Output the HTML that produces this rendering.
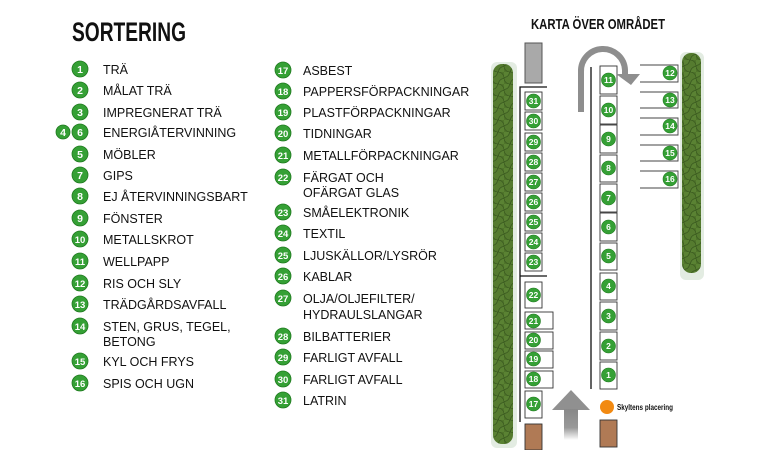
<!DOCTYPE html>
<html><head><meta charset="utf-8"><style>
html,body{margin:0;padding:0;background:#fff;}
svg{display:block;font-family:"Liberation Sans",sans-serif;}
.t{font-size:12.5px;fill:#111;}
.n{font-size:10.5px;fill:#fff;text-anchor:middle;font-weight:bold;}
.m{font-size:9.5px;fill:#fff;text-anchor:middle;font-weight:bold;}
</style></head><body>
<svg width="770" height="450" viewBox="0 0 770 450" xmlns="http://www.w3.org/2000/svg">
<defs>
<pattern id="tr" width="12" height="12" patternUnits="userSpaceOnUse">
<rect width="12" height="12" fill="#4f742a"/>
<circle cx="6" cy="6" r="6" fill="#557b2f" stroke="#3a5a1f" stroke-width="0.8"/>
<circle cx="0" cy="0" r="5.5" fill="#5a8233" stroke="#3a5a1f" stroke-width="0.8"/>
<circle cx="12" cy="12" r="5.5" fill="#5a8233" stroke="#3a5a1f" stroke-width="0.8"/>
</pattern>
<linearGradient id="fade" x1="0" y1="0" x2="0" y2="1"><stop offset="0" stop-color="#888"/><stop offset="0.6" stop-color="#999"/><stop offset="1" stop-color="#fff"/></linearGradient>
</defs>
<text x="72" y="41" style="font-family:'Liberation Sans Narrow','Liberation Sans',sans-serif;font-size:27px;font-weight:bold;fill:#111" textLength="114" lengthAdjust="spacingAndGlyphs">SORTERING</text>

<g>
<g fill="#35a035" stroke="#1f7a1f" stroke-width="0.8">
<circle cx="80" cy="69" r="8"/><circle cx="80" cy="90" r="8"/><circle cx="80" cy="112" r="8"/><circle cx="80" cy="132" r="8"/><circle cx="63" cy="132" r="7"/><circle cx="80" cy="154" r="8"/><circle cx="80" cy="175" r="8"/><circle cx="80" cy="196" r="8"/><circle cx="80" cy="218" r="8"/><circle cx="80" cy="239" r="8"/><circle cx="80" cy="261" r="8"/><circle cx="80" cy="283" r="8"/><circle cx="80" cy="304" r="8"/><circle cx="80" cy="326" r="8"/><circle cx="80" cy="361" r="8"/><circle cx="80" cy="383" r="8"/>
</g>
<text class="n" x="80" y="73">1</text><text class="n" x="80" y="94">2</text><text class="n" x="80" y="116">3</text><text class="n" x="63" y="136">4</text><text class="n" x="80" y="136">6</text><text class="n" x="80" y="158">5</text><text class="n" x="80" y="179">7</text><text class="n" x="80" y="200">8</text><text class="n" x="80" y="222">9</text><text class="m" x="80" y="243">10</text><text class="m" x="80" y="265">11</text><text class="m" x="80" y="287">12</text><text class="m" x="80" y="308">13</text><text class="m" x="80" y="330">14</text><text class="m" x="80" y="365">15</text><text class="m" x="80" y="387">16</text>
<text class="t" x="103" y="74">TRÄ</text>
<text class="t" x="103" y="95">MÅLAT TRÄ</text>
<text class="t" x="103" y="117">IMPREGNERAT TRÄ</text>
<text class="t" x="103" y="137">ENERGIÅTERVINNING</text>
<text class="t" x="103" y="159">MÖBLER</text>
<text class="t" x="103" y="180">GIPS</text>
<text class="t" x="103" y="201">EJ ÅTERVINNINGSBART</text>
<text class="t" x="103" y="223">FÖNSTER</text>
<text class="t" x="103" y="244">METALLSKROT</text>
<text class="t" x="103" y="266">WELLPAPP</text>
<text class="t" x="103" y="288">RIS OCH SLY</text>
<text class="t" x="103" y="309">TRÄDGÅRDSAVFALL</text>
<text class="t" x="103" y="331">STEN, GRUS, TEGEL,</text>
<text class="t" x="103" y="346">BETONG</text>
<text class="t" x="103" y="366">KYL OCH FRYS</text>
<text class="t" x="103" y="388">SPIS OCH UGN</text>
</g>

<g>
<g fill="#35a035" stroke="#1f7a1f" stroke-width="0.8">
<circle cx="283" cy="70" r="8"/><circle cx="283" cy="91" r="8"/><circle cx="283" cy="112" r="8"/><circle cx="283" cy="133" r="8"/><circle cx="283" cy="155" r="8"/><circle cx="283" cy="177" r="8"/><circle cx="283" cy="212" r="8"/><circle cx="283" cy="233" r="8"/><circle cx="283" cy="255" r="8"/><circle cx="283" cy="276" r="8"/><circle cx="283" cy="298" r="8"/><circle cx="283" cy="336" r="8"/><circle cx="283" cy="357" r="8"/><circle cx="283" cy="379" r="8"/><circle cx="283" cy="400" r="8"/>
</g>
<text class="m" x="283" y="74">17</text><text class="m" x="283" y="95">18</text><text class="m" x="283" y="116">19</text><text class="m" x="283" y="137">20</text><text class="m" x="283" y="159">21</text><text class="m" x="283" y="181">22</text><text class="m" x="283" y="216">23</text><text class="m" x="283" y="237">24</text><text class="m" x="283" y="259">25</text><text class="m" x="283" y="280">26</text><text class="m" x="283" y="302">27</text><text class="m" x="283" y="340">28</text><text class="m" x="283" y="361">29</text><text class="m" x="283" y="383">30</text><text class="m" x="283" y="404">31</text>
<text class="t" x="303" y="75">ASBEST</text>
<text class="t" x="303" y="96">PAPPERSFÖRPACKNINGAR</text>
<text class="t" x="303" y="117">PLASTFÖRPACKNINGAR</text>
<text class="t" x="303" y="138">TIDNINGAR</text>
<text class="t" x="303" y="160">METALLFÖRPACKNINGAR</text>
<text class="t" x="303" y="182">FÄRGAT OCH</text>
<text class="t" x="303" y="197">OFÄRGAT GLAS</text>
<text class="t" x="303" y="217">SMÅELEKTRONIK</text>
<text class="t" x="303" y="238">TEXTIL</text>
<text class="t" x="303" y="260">LJUSKÄLLOR/LYSRÖR</text>
<text class="t" x="303" y="281">KABLAR</text>
<text class="t" x="303" y="303">OLJA/OLJEFILTER/</text>
<text class="t" x="303" y="319">HYDRAULSLANGAR</text>
<text class="t" x="303" y="341">BILBATTERIER</text>
<text class="t" x="303" y="362">FARLIGT AVFALL</text>
<text class="t" x="303" y="384">FARLIGT AVFALL</text>
<text class="t" x="303" y="405">LATRIN</text>
</g>

<text x="531" y="29" style="font-family:'Liberation Sans Narrow','Liberation Sans',sans-serif;font-size:15px;font-weight:bold;fill:#111" textLength="134" lengthAdjust="spacingAndGlyphs">KARTA ÖVER OMRÅDET</text>

<rect x="491" y="62" width="26" height="386" rx="6" fill="#e3ece2"/>
<rect x="493" y="64" width="20" height="380" rx="9" fill="url(#tr)"/>
<rect x="680" y="52" width="24" height="228" rx="6" fill="#e3ece2"/>
<rect x="682" y="53" width="19" height="220" rx="9" fill="url(#tr)"/>

<rect x="525" y="43" width="17" height="40" fill="#a9a9a9" stroke="#555" stroke-width="1"/>
<g stroke="#111" stroke-width="1.3" fill="none">
<path d="M520 422 V87 H547"/><path d="M520 276 H547"/>
<path d="M591 67 V389"/>
</g>
<g fill="#fff" stroke="#333" stroke-width="0.9">
<rect x="525" y="92" width="17" height="18"/><rect x="525" y="112" width="17" height="18"/><rect x="525" y="133" width="17" height="18"/><rect x="525" y="153" width="17" height="18"/><rect x="525" y="173" width="17" height="18"/><rect x="525" y="193" width="17" height="18"/><rect x="525" y="213" width="17" height="18"/><rect x="525" y="233" width="17" height="18"/><rect x="525" y="253" width="17" height="18"/>
<rect x="525" y="282" width="17" height="26"/>
<rect x="525" y="312" width="28" height="17"/><rect x="525" y="332" width="28" height="17"/><rect x="525" y="351" width="28" height="17"/><rect x="525" y="371" width="28" height="17"/>
<rect x="525" y="391" width="17" height="27"/>
<rect x="600" y="66" width="17" height="28"/><rect x="600" y="96" width="17" height="28"/><rect x="600" y="125" width="17" height="28"/><rect x="600" y="155" width="17" height="27"/><rect x="600" y="184" width="17" height="28"/><rect x="600" y="213" width="17" height="28"/><rect x="600" y="243" width="17" height="27"/><rect x="600" y="273" width="17" height="27"/><rect x="600" y="302" width="17" height="28"/><rect x="600" y="332" width="17" height="28"/><rect x="600" y="362" width="17" height="27"/>
</g>
<g stroke="#444" stroke-width="0.9" fill="none">
<path d="M640 65 H678 V82 H640"/><path d="M640 92 H678 V108 H640"/><path d="M640 118 H678 V135 H640"/><path d="M640 145 H678 V161 H640"/><path d="M640 171 H678 V188 H640"/>
</g>
<g fill="#35a035" stroke="#1f7a1f" stroke-width="0.6">
<circle cx="533.5" cy="101" r="7"/><circle cx="533.5" cy="121" r="7"/><circle cx="533.5" cy="142" r="7"/><circle cx="533.5" cy="162" r="7"/><circle cx="533.5" cy="182" r="7"/><circle cx="533.5" cy="202" r="7"/><circle cx="533.5" cy="222" r="7"/><circle cx="533.5" cy="242" r="7"/><circle cx="533.5" cy="262" r="7"/>
<circle cx="533.5" cy="295" r="7"/><circle cx="533.5" cy="321" r="7"/><circle cx="533.5" cy="340" r="7"/><circle cx="533.5" cy="359" r="7"/><circle cx="533.5" cy="379" r="7"/><circle cx="533.5" cy="404" r="7"/>
<circle cx="608.5" cy="80" r="7"/><circle cx="608.5" cy="110" r="7"/><circle cx="608.5" cy="139" r="7"/><circle cx="608.5" cy="168" r="7"/><circle cx="608.5" cy="198" r="7"/><circle cx="608.5" cy="227" r="7"/><circle cx="608.5" cy="256" r="7"/><circle cx="608.5" cy="286" r="7"/><circle cx="608.5" cy="316" r="7"/><circle cx="608.5" cy="346" r="7"/><circle cx="608.5" cy="375" r="7"/>
<circle cx="670" cy="73" r="7"/><circle cx="670" cy="100" r="7"/><circle cx="670" cy="126" r="7"/><circle cx="670" cy="153" r="7"/><circle cx="670" cy="179" r="7"/>
</g>
<g style="font-size:8.5px;fill:#fff;text-anchor:middle;font-weight:bold">
<text x="533.5" y="104">31</text><text x="533.5" y="124">30</text><text x="533.5" y="145">29</text><text x="533.5" y="165">28</text><text x="533.5" y="185">27</text><text x="533.5" y="205">26</text><text x="533.5" y="225">25</text><text x="533.5" y="245">24</text><text x="533.5" y="265">23</text>
<text x="533.5" y="298">22</text><text x="533.5" y="324">21</text><text x="533.5" y="343">20</text><text x="533.5" y="362">19</text><text x="533.5" y="382">18</text><text x="533.5" y="407">17</text>
<text x="608.5" y="83">11</text><text x="608.5" y="113">10</text><text x="608.5" y="142">9</text><text x="608.5" y="171">8</text><text x="608.5" y="201">7</text><text x="608.5" y="230">6</text><text x="608.5" y="259">5</text><text x="608.5" y="289">4</text><text x="608.5" y="319">3</text><text x="608.5" y="349">2</text><text x="608.5" y="378">1</text>
<text x="670" y="76">12</text><text x="670" y="103">13</text><text x="670" y="129">14</text><text x="670" y="156">15</text><text x="670" y="182">16</text>
</g>

<path d="M581 112 V72 A22 22 0 0 1 625 70 V76" fill="none" stroke="#8e8e8e" stroke-width="6"/>
<polygon points="616,74 640,74 631,85" fill="#8e8e8e"/>
<polygon points="552,410 571,390 590,410" fill="#909090"/>
<rect x="564" y="409" width="14" height="31" fill="url(#fade)"/>

<rect x="525" y="424" width="17" height="26" fill="#b07a55" stroke="#333" stroke-width="0.9"/>
<rect x="600" y="420" width="17" height="27" fill="#b07a55" stroke="#333" stroke-width="0.9"/>
<circle cx="607" cy="407" r="7" fill="#f28a12"/>
<text x="617" y="410" style="font-family:'Liberation Sans Narrow','Liberation Sans',sans-serif;font-size:8px;font-weight:bold;fill:#111" textLength="56" lengthAdjust="spacingAndGlyphs">Skyltens placering</text>
</svg>
</body></html>
